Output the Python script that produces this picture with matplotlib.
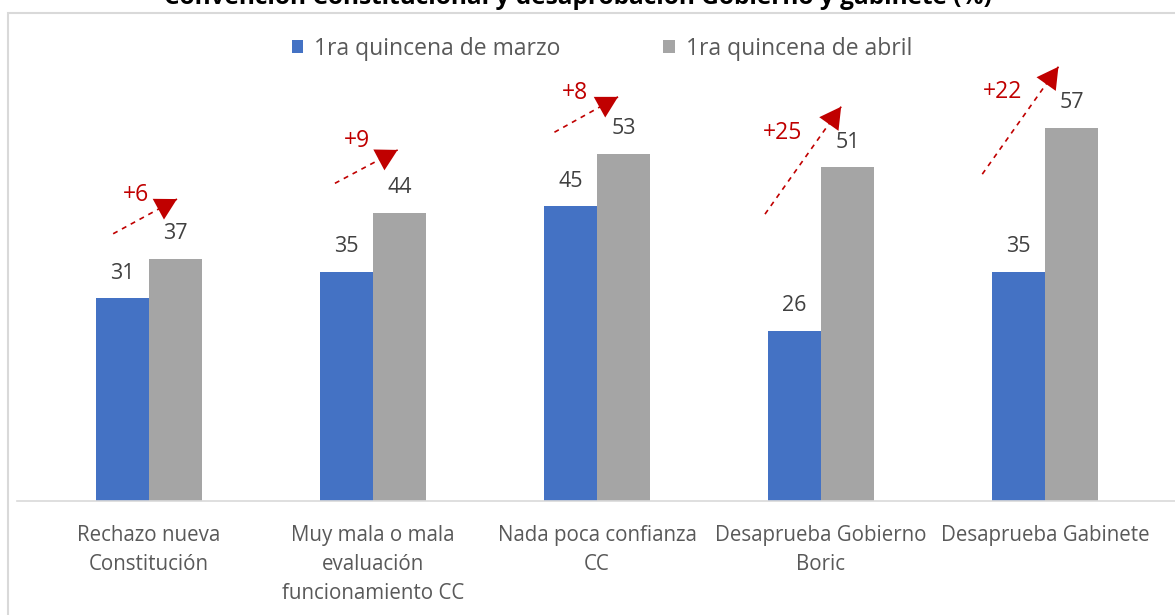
import matplotlib.pyplot as plt
import numpy as np
from matplotlib.patches import Rectangle

plt.rcParams['font.family'] = ['Open Sans', 'DejaVu Sans']

categorias = ['Rechazo nueva\nConstitución',
              'Muy mala o mala\nevaluación\nfuncionamiento CC',
              'Nada poca confianza\nCC',
              'Desaprueba Gobierno\nBoric',
              'Desaprueba Gabinete']
marzo = [31, 35, 45, 26, 35]
abril = [37, 44, 53, 51, 57]
serie_marzo = '1ra quincena de marzo'
serie_abril = '1ra quincena de abril'
titulo = 'Convención Constitucional y desaprobación Gobierno y gabinete (%)'

# arrow layout: (dx start, y start, dx tip, y tip, dx label, y label)
flechas = [(-0.16, 40.8, 0.125, 46.1, -0.06, 46.7),
           (-0.17, 48.5, 0.11, 53.6, -0.07, 55.0),
           (-0.19, 56.3, 0.094, 61.7, -0.10, 62.3),
           (-0.25, 43.8, 0.09, 60.2, -0.17, 56.2),
           (-0.28, 49.9, 0.06, 66.3, -0.19, 62.4)]

W, H = 1175, 615
fig = plt.figure(figsize=(W / 100, H / 100), dpi=100)

# axes placed in pixels
ax_left, ax_right, ax_bottom, ax_top = 17, 1175, 501, 30
ax = fig.add_axes([ax_left / W, (H - ax_bottom) / H,
                   (ax_right - ax_left) / W, (ax_bottom - ax_top) / H])
ppu = 6.55
ax.set_ylim(0, (ax_bottom - ax_top) / ppu)
xmin = -(149 - ax_left) / 224
ax.set_xlim(xmin, xmin + (ax_right - ax_left) / 224)

x = np.arange(len(categorias))
bw = 0.237
b1 = ax.bar(x - bw / 2, marzo, bw, color='#4472C4', label=serie_marzo)
b2 = ax.bar(x + bw / 2, abril, bw, color='#A5A5A5', label=serie_abril)

for i in range(len(x)):
    ax.text(x[i] - bw / 2, marzo[i] + 2.2, str(marzo[i]), ha='center', va='bottom',
            fontsize=15.5, color='#404040')
    ax.text(x[i] + bw / 2, abril[i] + 2.2, str(abril[i]), ha='center', va='bottom',
            fontsize=15.5, color='#404040')
    ax.text(x[i], -3.6, categorias[i], ha='center', va='top', fontsize=14.8,
            color='#595959', linespacing=1.5)

    sx, sy, tx, ty, lx, ly = flechas[i]
    ax.plot([x[i] + sx, x[i] + tx], [sy, ty], color='#C00000', lw=1.2,
            linestyle=(0, (3, 3)))
    # short solid segment for the arrow head
    f = 0.1
    hx = x[i] + tx - (tx - sx) * f
    hy = ty - (ty - sy) * f
    ax.annotate('', xy=(x[i] + tx, ty), xytext=(hx, hy),
                arrowprops=dict(arrowstyle='-|>,head_length=0.9,head_width=0.5',
                                color='#C00000', lw=0, mutation_scale=17,
                                shrinkA=0, shrinkB=0))
    ax.text(x[i] + lx, ly, '+%d' % (abril[i] - marzo[i]), ha='center', va='center',
            fontsize=16.5, color='#C00000')

for s in ['top', 'right', 'left']:
    ax.spines[s].set_visible(False)
ax.spines['bottom'].set_color('#D9D9D9')
ax.spines['bottom'].set_linewidth(1.2)
ax.set_yticks([])
ax.set_xticks([])

ax.legend(loc='center', bbox_to_anchor=(0.505, 0.96), ncol=2, frameon=False,
          fontsize=16.5, labelcolor='#595959', handlelength=0.52, handleheight=0.52,
          columnspacing=4.45, handletextpad=0.48, borderpad=0, borderaxespad=0)

# chart border
fig.patches.append(Rectangle((8 / W, -0.1), 1.2, 1.1 - 13 / H, transform=fig.transFigure,
                             fill=False, edgecolor='#D9D9D9', lw=1.5))
fig.text(578 / W, 1 - 4 / H, titulo, ha='center', va='baseline', fontsize=17.6,
         fontweight='bold', color='#000000')

fig.savefig('out.png', dpi=100)
